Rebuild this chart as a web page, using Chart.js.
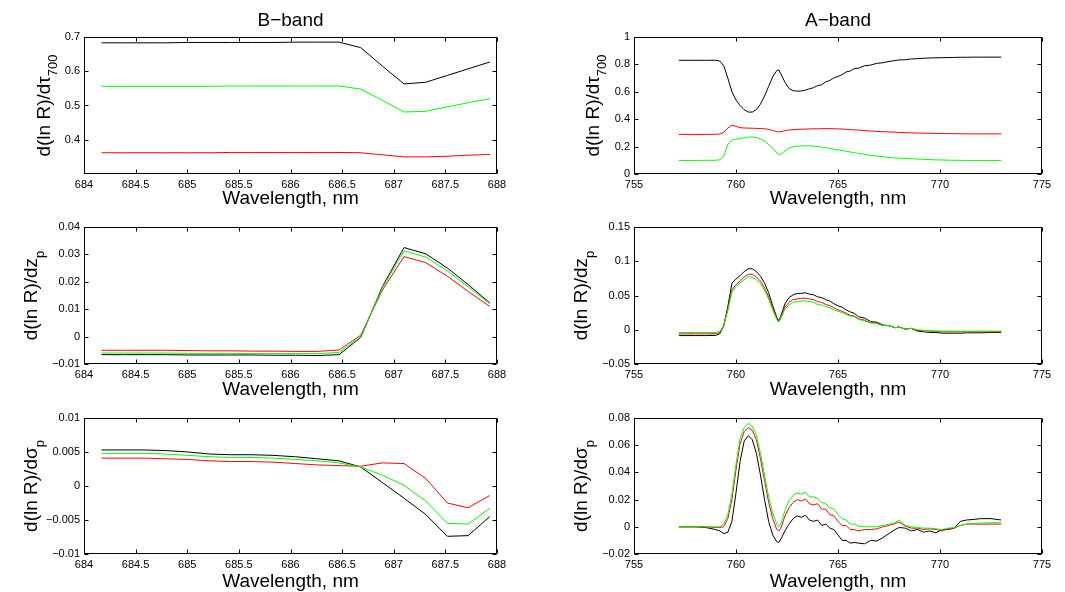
<!DOCTYPE html>
<html>
<head>
<meta charset="utf-8">
<script src="https://cdn.jsdelivr.net/npm/chart.js@4.4.1/dist/chart.umd.min.js"></script>
<style>
  body { margin: 0; background: #fff; }
  #wrap { position: relative; width: 1065px; height: 592px; overflow: hidden; }
  canvas { position: absolute; }
</style>
</head>
<body>
<div id="wrap">
  <canvas id="bTau" width="530" height="210" style="left:0;top:0"></canvas>
  <canvas id="aTau" width="535" height="210" style="left:530px;top:0"></canvas>
  <canvas id="bZp" width="530" height="190" style="left:0;top:210px"></canvas>
  <canvas id="aZp" width="535" height="190" style="left:530px;top:210px"></canvas>
  <canvas id="bSig" width="530" height="192" style="left:0;top:400px"></canvas>
  <canvas id="aSig" width="535" height="192" style="left:530px;top:400px"></canvas>
</div>
<script>
// ---- wavelengths (nm) ----
const bWave = [684.17, 684.38, 684.59, 684.80, 685.01, 685.22, 685.42, 685.63, 685.84, 686.05,
  686.26, 686.47, 686.68, 686.89, 687.10, 687.31, 687.52, 687.72, 687.93];
const aWave = [757.2, 758.0, 758.5, 759.0, 759.2, 759.4, 759.6, 759.8, 760.0, 760.2,
  760.4, 760.6, 760.8, 761.0, 761.2, 761.4, 761.6, 761.8, 762.0, 762.1,
  762.2, 762.4, 762.6, 762.8, 763.0, 763.2, 763.4, 763.6, 763.8, 764.0,
  764.2, 764.4, 764.6, 764.8, 765.0, 765.2, 765.4, 765.6, 765.8, 766.0,
  766.3, 766.6, 766.9, 767.2, 767.5, 767.8, 768.0, 768.3, 768.6, 768.9,
  769.2, 769.5, 769.8, 770.1, 770.4, 770.7, 771.0, 771.3, 771.7, 772.0,
  772.5, 773.0];

// ---- B-band derivatives ----
const bTauBlack = [0.683, 0.683, 0.683, 0.683, 0.684, 0.684, 0.684, 0.684, 0.684, 0.685,
  0.685, 0.685, 0.669, 0.615, 0.563, 0.568, 0.588, 0.607, 0.627];
const bTauGreen = [0.556, 0.556, 0.556, 0.556, 0.556, 0.556, 0.557, 0.557, 0.557, 0.557,
  0.557, 0.557, 0.548, 0.515, 0.481, 0.483, 0.496, 0.508, 0.520];
const bTauRed = [0.362, 0.362, 0.362, 0.362, 0.362, 0.362, 0.363, 0.363, 0.363, 0.363,
  0.363, 0.363, 0.362, 0.356, 0.350, 0.350, 0.352, 0.355, 0.357];

const bZpBlack = [-0.0066, -0.0066, -0.0066, -0.0066, -0.0067, -0.0067, -0.0067, -0.0067, -0.0068, -0.0068,
  -0.0069, -0.0066, -0.0003, 0.0182, 0.0325, 0.0302, 0.0250, 0.0190, 0.0123];
const bZpGreen = [-0.0060, -0.0060, -0.0060, -0.0060, -0.0061, -0.0061, -0.0061, -0.0062, -0.0062, -0.0062,
  -0.0062, -0.0058, -0.0001, 0.0178, 0.0313, 0.0290, 0.0240, 0.0182, 0.0120];
const bZpRed = [-0.0050, -0.0050, -0.0050, -0.0050, -0.0051, -0.0052, -0.0052, -0.0053, -0.0053, -0.0054,
  -0.0054, -0.0049, 0.0005, 0.0170, 0.0292, 0.0270, 0.0220, 0.0165, 0.0110];

const bSigBlack = [0.0053, 0.0053, 0.0053, 0.0052, 0.0050, 0.0047, 0.0046, 0.0046, 0.0045, 0.0043,
  0.0040, 0.0037, 0.0028, 0.0005, -0.0018, -0.0042, -0.0074, -0.0073, -0.0045];
const bSigGreen = [0.0048, 0.0048, 0.0048, 0.0047, 0.0045, 0.0043, 0.0042, 0.0042, 0.0041, 0.0039,
  0.0037, 0.0034, 0.0028, 0.0016, 0.0001, -0.0022, -0.0055, -0.0056, -0.0033];
const bSigRed = [0.0041, 0.0041, 0.0041, 0.0040, 0.0039, 0.0037, 0.0036, 0.0036, 0.0035, 0.0033,
  0.0031, 0.0030, 0.0029, 0.0034, 0.0033, 0.0011, -0.0025, -0.0032, -0.0014];

// ---- A-band derivatives ----
const aTauBlack = [0.83, 0.83, 0.83, 0.83, 0.825, 0.79, 0.70, 0.60, 0.54, 0.50,
  0.47, 0.452, 0.452, 0.47, 0.51, 0.57, 0.64, 0.71, 0.755, 0.76,
  0.73, 0.67, 0.625, 0.608, 0.605, 0.606, 0.612, 0.622, 0.63, 0.645,
  0.652, 0.672, 0.683, 0.702, 0.712, 0.725, 0.745, 0.752, 0.77, 0.772,
  0.79, 0.795, 0.808, 0.812, 0.822, 0.828, 0.833, 0.834, 0.84, 0.842,
  0.845, 0.847, 0.848, 0.849, 0.85, 0.851, 0.852, 0.852, 0.853, 0.853,
  0.853, 0.853];
const aTauRed = [0.289, 0.289, 0.289, 0.29, 0.292, 0.305, 0.335, 0.357, 0.348, 0.338,
  0.336, 0.335, 0.334, 0.333, 0.332, 0.33, 0.326, 0.318, 0.31, 0.307,
  0.309, 0.316, 0.321, 0.324, 0.326, 0.327, 0.328, 0.329, 0.33, 0.33,
  0.331, 0.331, 0.331, 0.33, 0.329, 0.328, 0.326, 0.324, 0.322, 0.32,
  0.317, 0.314, 0.311, 0.309, 0.307, 0.305, 0.303, 0.302, 0.3, 0.299,
  0.298, 0.297, 0.296, 0.295, 0.295, 0.294, 0.294, 0.293, 0.293, 0.293,
  0.293, 0.293];
const aTauGreen = [0.099, 0.099, 0.1, 0.1, 0.104, 0.13, 0.215, 0.25, 0.254, 0.258,
  0.265, 0.27, 0.27, 0.266, 0.256, 0.24, 0.215, 0.19, 0.155, 0.14,
  0.145, 0.168, 0.188, 0.198, 0.203, 0.205, 0.206, 0.205, 0.203, 0.2,
  0.197, 0.192, 0.187, 0.181, 0.176, 0.172, 0.166, 0.161, 0.156, 0.151,
  0.144, 0.137, 0.131, 0.126, 0.121, 0.117, 0.115, 0.113, 0.111, 0.109,
  0.107, 0.105, 0.103, 0.102, 0.101, 0.1, 0.1, 0.099, 0.099, 0.099,
  0.099, 0.099];

const aZpBlack = [-0.0085, -0.0085, -0.0085, -0.0083, -0.006, 0.006, 0.034, 0.068, 0.074, 0.079,
  0.085, 0.089, 0.089, 0.085, 0.078, 0.068, 0.054, 0.035, 0.018, 0.013,
  0.02, 0.038, 0.047, 0.051, 0.053, 0.053, 0.054, 0.052, 0.051, 0.048,
  0.047, 0.044, 0.042, 0.038, 0.035, 0.033, 0.029, 0.026, 0.024, 0.019,
  0.017, 0.012, 0.011, 0.007, 0.006, 0.003, 0.004, 0.001, 0.002, -0.002,
  -0.003, -0.004, -0.004, -0.005, -0.005, -0.005, -0.005, -0.0045, -0.0045, -0.0045,
  -0.004, -0.004];
const aZpRed = [-0.006, -0.006, -0.006, -0.0058, -0.004, 0.006, 0.03, 0.058, 0.066, 0.071,
  0.077, 0.081, 0.081, 0.077, 0.071, 0.061, 0.048, 0.031, 0.016, 0.012,
  0.018, 0.033, 0.04, 0.044, 0.045, 0.046, 0.046, 0.045, 0.044, 0.041,
  0.04, 0.037, 0.035, 0.032, 0.029, 0.027, 0.024, 0.021, 0.02, 0.016,
  0.014, 0.01, 0.01, 0.006, 0.006, 0.003, 0.004, 0.001, 0.002, -0.001,
  -0.001, -0.002, -0.002, -0.003, -0.003, -0.003, -0.003, -0.003, -0.003, -0.003,
  -0.003, -0.003];
const aZpGreen = [-0.004, -0.004, -0.004, -0.004, -0.003, 0.006, 0.028, 0.055, 0.063, 0.068,
  0.073, 0.077, 0.077, 0.073, 0.067, 0.058, 0.045, 0.029, 0.015, 0.011,
  0.017, 0.03, 0.036, 0.04, 0.041, 0.042, 0.042, 0.041, 0.04, 0.037,
  0.036, 0.034, 0.032, 0.029, 0.027, 0.025, 0.022, 0.02, 0.019, 0.015,
  0.013, 0.01, 0.009, 0.006, 0.006, 0.003, 0.004, 0.001, 0.002, 0.0,
  -0.001, -0.001, -0.002, -0.002, -0.002, -0.002, -0.002, -0.002, -0.002, -0.002,
  -0.002, -0.002];

const aSigBlack = [0.0, 0.0, -0.0005, -0.002, -0.003, -0.005, -0.004, 0.004, 0.025, 0.048,
  0.063, 0.067, 0.064, 0.054, 0.038, 0.02, 0.004, -0.006, -0.011, -0.0115,
  -0.009, -0.003, 0.002, 0.006, 0.008, 0.007, 0.0085, 0.005, 0.004, 0.005,
  0.001, 0.002, -0.001, -0.002, -0.006, -0.01, -0.01, -0.012, -0.0115, -0.012,
  -0.0125, -0.01, -0.0105, -0.008, -0.005, -0.002, -0.0005, -0.001, -0.003, -0.002,
  -0.004, -0.003, -0.0045, -0.002, -0.002, -0.001, 0.004, 0.005, 0.0055, 0.006,
  0.006, 0.005];
const aSigRed = [0.0, 0.0, 0.0, -0.0005, -0.0005, 0.0, 0.006, 0.02, 0.042, 0.061,
  0.07, 0.073, 0.071, 0.064, 0.05, 0.034, 0.018, 0.006, -0.002, -0.003,
  -0.001, 0.008, 0.014, 0.018, 0.02, 0.019, 0.0205, 0.017, 0.016, 0.017,
  0.013, 0.013, 0.009, 0.008, 0.004, 0.001, 0.001, -0.002, -0.002, -0.003,
  -0.002, -0.002, -0.0015, 0.0, 0.001, 0.0025, 0.0035, 0.0005, -0.001, -0.001,
  -0.002, -0.0015, -0.002, -0.003, -0.0015, -0.001, 0.001, 0.002, 0.002, 0.002,
  0.002, 0.002];
const aSigGreen = [0.0, 0.0, 0.0, 0.0, 0.0, 0.002, 0.009, 0.024, 0.046, 0.065,
  0.073, 0.076, 0.074, 0.067, 0.054, 0.038, 0.022, 0.01, 0.002, 0.0,
  0.002, 0.012, 0.019, 0.023, 0.025, 0.024, 0.0255, 0.022, 0.022, 0.021,
  0.018, 0.017, 0.014, 0.013, 0.009, 0.006, 0.005, 0.002, 0.002, 0.0005,
  0.0, 0.0, 0.0, 0.001, 0.002, 0.003, 0.005, 0.001, 0.0, -0.0005,
  -0.001, -0.001, -0.0015, -0.002, -0.001, -0.0005, 0.001, 0.002, 0.0025, 0.0027,
  0.003, 0.003];

// ---- tick labels ----
const bWaveTicks = [684, 684.5, 685, 685.5, 686, 686.5, 687, 687.5, 688];
const aWaveTicks = [755, 760, 765, 770, 775];
const bTauTicks = [0.4, 0.5, 0.6, 0.7];
const aTauTicks = [0, 0.2, 0.4, 0.6, 0.8, 1];
const bZpTicks = [-0.01, 0, 0.01, 0.02, 0.03, 0.04];
const aZpTicks = [-0.05, 0, 0.05, 0.1, 0.15];
const bSigTicks = [-0.01, -0.005, 0, 0.005, 0.01];
const aSigTicks = [-0.02, 0, 0.02, 0.04, 0.06, 0.08];

const FONT = '"Liberation Sans", Arial, Helvetica, sans-serif';

function fmt(v) {
  return String(parseFloat(v.toFixed(4))).replace('-', '\u2212');
}

// MATLAB-like box, inward ticks on all four sides, band title and y label with subscript
const matlabBox = {
  id: 'matlabBox',
  afterDraw(chart, args, o) {
    const { ctx, chartArea: a, scales: { x, y } } = chart;
    const L = Math.round(a.left) + 0.5, R = Math.round(a.right) - 0.5;
    const T = Math.round(a.top) + 0.5, B = Math.round(a.bottom) - 0.5;
    ctx.save();
    ctx.strokeStyle = '#000';
    ctx.lineWidth = 1;
    ctx.beginPath();
    x.ticks.forEach(t => {
      const px = Math.round(x.getPixelForValue(t.value)) + 0.5;
      ctx.moveTo(px, B); ctx.lineTo(px, B - 4);
      ctx.moveTo(px, T); ctx.lineTo(px, T + 4);
    });
    y.ticks.forEach(t => {
      const py = Math.round(y.getPixelForValue(t.value)) + 0.5;
      ctx.moveTo(L, py); ctx.lineTo(L + 4, py);
      ctx.moveTo(R, py); ctx.lineTo(R - 4, py);
    });
    ctx.stroke();
    ctx.strokeRect(L, T, R - L, B - T);

    ctx.fillStyle = '#000';
    ctx.textBaseline = 'alphabetic';
    if (o.band) {
      ctx.font = '19px ' + FONT;
      ctx.textAlign = 'center';
      ctx.fillText(o.band, (a.left + a.right) / 2, o.bandY);
    }
    // y label: main text plus lowered subscript, rotated
    ctx.textAlign = 'left';
    ctx.font = '19px ' + FONT;
    const wMain = ctx.measureText(o.yMain).width;
    ctx.font = '13px ' + FONT;
    const wSub = ctx.measureText(o.ySub).width;
    ctx.translate(o.yLabelX, (a.top + a.bottom) / 2);
    ctx.rotate(-Math.PI / 2);
    ctx.font = '19px ' + FONT;
    ctx.fillText(o.yMain, -(wMain + wSub) / 2, 0);
    ctx.font = '13px ' + FONT;
    ctx.fillText(o.ySub, -(wMain + wSub) / 2 + wMain, 7);
    ctx.restore();
  }
};

function panel(id, wave, blacks, reds, greens, xTicks, yTicks, yMin, yMax, g, deco) {
  const pts = arr => wave.map((w, i) => ({ x: w, y: arr[i] }));
  const line = (arr, color) => ({
    data: pts(arr), borderColor: color, borderWidth: 1,
    pointRadius: 0, tension: 0, fill: false
  });
  return new Chart(document.getElementById(id), {
    type: 'line',
    data: {
      datasets: [line(greens, '#00ff00'), line(reds, '#ff0000'), line(blacks, '#000000')]
    },
    options: {
      responsive: false,
      animation: false,
      events: [],
      layout: { padding: { left: 0, top: g.top, right: g.right, bottom: 0 } },
      scales: {
        x: {
          type: 'linear',
          min: xTicks[0], max: xTicks[xTicks.length - 1],
          afterBuildTicks: s => { s.ticks = xTicks.map(v => ({ value: v })); },
          afterFit: s => { s.height = g.xh; },
          grid: { display: false, drawTicks: false },
          border: { display: false },
          ticks: {
            autoSkip: false, maxRotation: 0, padding: 4, color: '#000',
            font: { family: FONT, size: 11 },
            callback: v => fmt(v)
          },
          title: {
            display: true, text: 'Wavelength, nm', color: '#000',
            font: { family: FONT, size: 19, lineHeight: '20px' },
            padding: { top: 0, bottom: g.tpad }
          }
        },
        y: {
          min: yMin, max: yMax,
          afterBuildTicks: s => { s.ticks = yTicks.map(v => ({ value: v })); },
          afterFit: s => { s.width = g.yw; },
          grid: { display: false, drawTicks: false },
          border: { display: false },
          ticks: {
            padding: 4, color: '#000',
            font: { family: FONT, size: 11 },
            callback: v => fmt(v)
          }
        }
      },
      plugins: {
        legend: { display: false },
        tooltip: { enabled: false },
        matlabBox: deco
      }
    },
    plugins: [matlabBox]
  });
}

const rowTop = { top: 37, xh: 36, tpad: 1 };
const rowMid = { top: 17, xh: 36, tpad: 0 };
const rowBot = { top: 18, xh: 38, tpad: 0 };
const colL = { right: 33, yw: 84 };
const colR = { right: 23, yw: 104 };
const geo = (r, c) => Object.assign({}, r, c);

panel('bTau', bWave, bTauBlack, bTauRed, bTauGreen, bWaveTicks, bTauTicks, 0.3, 0.7,
  geo(rowTop, colL), { band: 'B\u2212band', bandY: 26, yMain: 'd(ln R)/d\u03c4', ySub: '700', yLabelX: 50 });
panel('aTau', aWave, aTauBlack, aTauRed, aTauGreen, aWaveTicks, aTauTicks, 0, 1,
  geo(rowTop, colR), { band: 'A\u2212band', bandY: 26, yMain: 'd(ln R)/d\u03c4', ySub: '700', yLabelX: 69 });
panel('bZp', bWave, bZpBlack, bZpRed, bZpGreen, bWaveTicks, bZpTicks, -0.01, 0.04,
  geo(rowMid, colL), { yMain: 'd(ln R)/dz', ySub: 'p', yLabelX: 37 });
panel('aZp', aWave, aZpBlack, aZpRed, aZpGreen, aWaveTicks, aZpTicks, -0.05, 0.15,
  geo(rowMid, colR), { yMain: 'd(ln R)/dz', ySub: 'p', yLabelX: 57 });
panel('bSig', bWave, bSigBlack, bSigRed, bSigGreen, bWaveTicks, bSigTicks, -0.01, 0.01,
  geo(rowBot, colL), { yMain: 'd(ln R)/d\u03c3', ySub: 'p', yLabelX: 37 });
panel('aSig', aWave, aSigBlack, aSigRed, aSigGreen, aWaveTicks, aSigTicks, -0.02, 0.08,
  geo(rowBot, colR), { yMain: 'd(ln R)/d\u03c3', ySub: 'p', yLabelX: 57 });
</script>
</body>
</html>
